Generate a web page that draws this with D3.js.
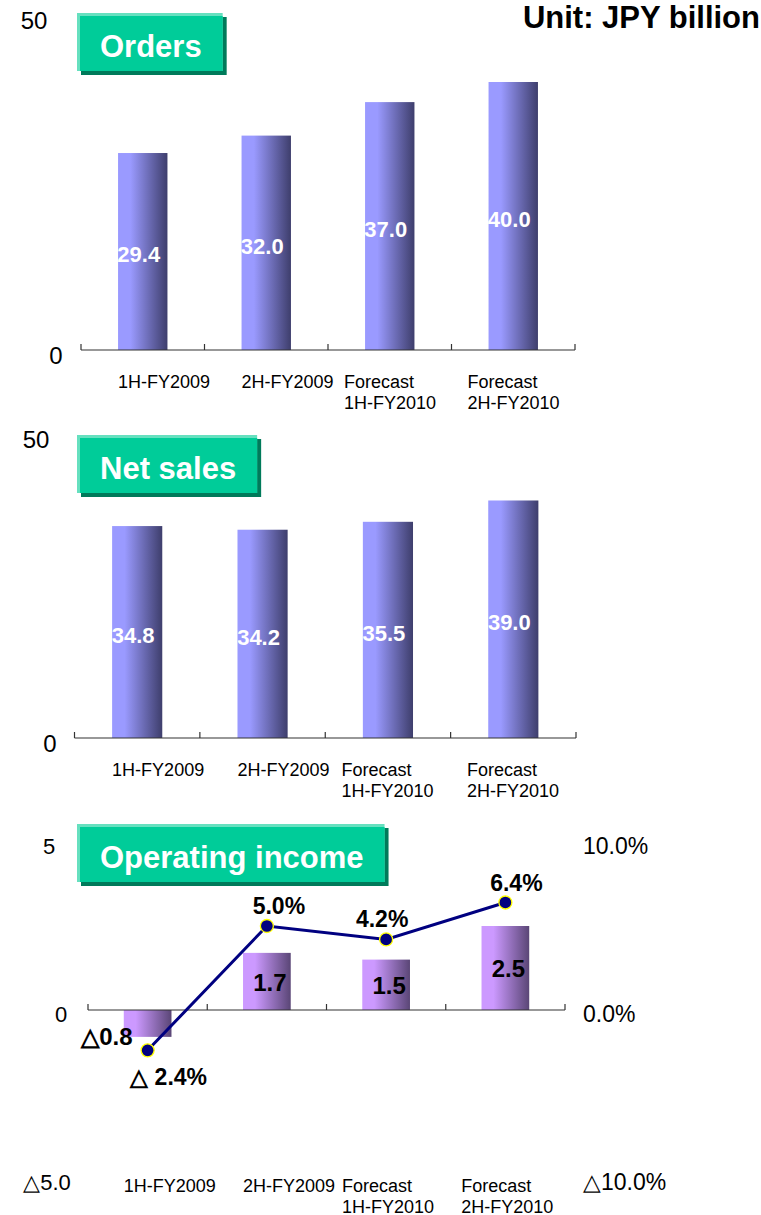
<!DOCTYPE html>
<html>
<head>
<meta charset="utf-8">
<script src="https://cdn.jsdelivr.net/npm/d3@7"></script>
<style>
  body { margin: 0; background: #fff; }
  svg { display: block; font-family: "Liberation Sans", Arial, sans-serif; }
</style>
</head>
<body>
<script>
// categories and values (JPY billion)
var categories = [["1H-FY2009"], ["2H-FY2009"], ["Forecast", "1H-FY2010"], ["Forecast", "2H-FY2010"]];
var orders = [29.4, 32.0, 37.0, 40.0];
var netSales = [34.8, 34.2, 35.5, 39.0];
var opIncome = [-0.8, 1.7, 1.5, 2.5];
var opMargin = [-2.4, 5.0, 4.2, 6.4];   // % of sales

var salesTicks = [0, 50],
    salesTickLabels = ["0", "50"];
var opTicks = [-5, 0, 5],
    opTickLabels = ["\u25B35.0", "0", "5"];
var marginTicks = [-10, 0, 10],
    marginTickLabels = ["\u25B310.0%", "0.0%", "10.0%"];

var W = 761, H = 1215;
var svg = d3.select("body").append("svg").attr("width", W).attr("height", H);

var defs = svg.append("defs");
function gradient(id, c0, c1) {
  var g = defs.append("linearGradient").attr("id", id)
      .attr("x1", "0%").attr("x2", "100%").attr("y1", "0%").attr("y2", "0%");
  g.append("stop").attr("offset", "0%").attr("stop-color", c0);
  g.append("stop").attr("offset", "25%").attr("stop-color", c0);
  g.append("stop").attr("offset", "100%").attr("stop-color", c1);
}
gradient("blueBar", "#9a9aff", "#3e3e6c");
gradient("purpleBar", "#cc99ff", "#5a4676");

var fmtNeg = function(v, dec, suffix, gap) {
  return v < 0 ? "\u25B3" + (gap ? " " : "") + Math.abs(v).toFixed(dec) + suffix : v.toFixed(dec) + suffix;
};

// green title panel with shadow
function titleBox(x, y, label) {
  var g = svg.append("g");
  var shadow = g.append("rect").attr("fill", "#007a5a");
  var light = g.append("rect").attr("fill", "#66e0bf");
  var main = g.append("rect").attr("fill", "#00cc99");
  var t = g.append("text").attr("x", 0).attr("y", y + 44)
      .attr("fill", "#fff").attr("font-size", 31).attr("font-weight", "bold")
      .attr("text-anchor", "middle").text(label);
  var w = t.node().getComputedTextLength() + 44, h = 58;
  shadow.attr("x", x + 4).attr("y", y + 4).attr("width", w).attr("height", h);
  light.attr("x", x).attr("y", y).attr("width", w).attr("height", h);
  main.attr("x", x + 3).attr("y", y + 3).attr("width", w - 3).attr("height", h - 3);
  t.attr("x", x + w / 2 + 1);
}

function categoryAxis(x, y0, labelY) {
  var bw = x.bandwidth();
  var ticks = x.domain().map(function(d) { return x(d); }).concat([x.range()[1]]);
  svg.append("line")
      .attr("x1", x.range()[0]).attr("x2", x.range()[1])
      .attr("y1", y0).attr("y2", y0)
      .attr("stroke", "#333").attr("stroke-width", 1.2);
  svg.selectAll(null).data(ticks).enter().append("line")
      .attr("x1", function(d) { return d; }).attr("x2", function(d) { return d; })
      .attr("y1", y0).attr("y2", y0 - 6)
      .attr("stroke", "#333").attr("stroke-width", 1.2);
  var lab = svg.selectAll(null).data(categories).enter().append("text")
      .attr("font-size", 18).attr("fill", "#000")
      .attr("x", function(d, i) { return x(i) + (d.length > 1 ? 0.13 : 0.3) * bw; })
      .attr("y", labelY);
  lab.selectAll("tspan").data(function(d) { return d; }).enter().append("tspan")
      .attr("x", function() { return d3.select(this.parentNode).attr("x"); })
      .attr("dy", function(d, j) { return j ? 20.5 : 0; })
      .text(function(d) { return d; });
}

function barChart(values, top, yZero, yMax, xRange, title, labelXs) {
  var x = d3.scaleBand().domain(d3.range(values.length)).range(xRange);
  var y = d3.scaleLinear().domain([0, 50]).range([yZero, yMax]);
  var bw = x.bandwidth(), barW = 0.4 * bw;

  svg.selectAll(null).data(values).enter().append("rect")
      .attr("x", function(d, i) { return x(i) + (bw - barW) / 2; })
      .attr("y", function(d) { return y(d); })
      .attr("width", barW)
      .attr("height", function(d) { return y(0) - y(d); })
      .attr("fill", "url(#blueBar)");

  svg.selectAll(null).data(values).enter().append("text")
      .attr("x", function(d, i) { return x(i) + bw / 2 - 4; })
      .attr("y", function(d) { return (y(d) + y(0)) / 2 + 3; })
      .attr("dy", "0.35em").attr("text-anchor", "middle")
      .attr("fill", "#fff").attr("font-size", 22).attr("font-weight", "bold")
      .text(function(d) { return d.toFixed(1); });

  svg.selectAll(null).data(salesTicks).enter().append("text")
      .attr("x", function(d, i) { return labelXs[i]; })
      .attr("y", function(d) { return y(d) + 6; })
      .attr("dy", "0.35em").attr("text-anchor", "middle")
      .attr("font-size", 24).attr("fill", "#000")
      .text(function(d, i) { return salesTickLabels[i]; });

  categoryAxis(x, y(0), y(0) + 38);
  titleBox(77, top, title);
}

barChart(orders, 13, 350, 15, [81, 575], "Orders", [56, 34]);
barChart(netSales, 435, 738, 433.5, [74.5, 576], "Net sales", [50, 36]);

// Operating income: bars on left axis, margin line on right axis
(function() {
  var x = d3.scaleBand().domain(d3.range(opIncome.length)).range([88, 565]);
  var y = d3.scaleLinear().domain([-5, 5]).range([1178, 842]);
  var y2 = d3.scaleLinear().domain([-10, 10]).range([1178, 842]);
  var bw = x.bandwidth(), barW = 0.4 * bw;
  var cx = function(i) { return x(i) + bw / 2; };

  svg.selectAll(null).data(opIncome).enter().append("rect")
      .attr("x", function(d, i) { return cx(i) - barW / 2; })
      .attr("y", function(d) { return y(Math.max(0, d)); })
      .attr("width", barW)
      .attr("height", function(d) { return Math.abs(y(d) - y(0)); })
      .attr("fill", "url(#purpleBar)");

  categoryAxis(x, y(0), 1192);

  svg.selectAll(null).data(opIncome).enter().append("text")
      .attr("x", function(d, i) { return d < 0 ? cx(i) - 15 : cx(i) + 3; })
      .attr("y", function(d) { return d < 0 ? y(d) : (y(d) + y(0)) / 2 + 1; })
      .attr("dy", "0.35em")
      .attr("text-anchor", function(d) { return d < 0 ? "end" : "middle"; })
      .attr("font-size", 24).attr("font-weight", "bold").attr("fill", "#000")
      .text(function(d) { return fmtNeg(d, 1, "", false); });

  var line = d3.line().x(function(d, i) { return cx(i); }).y(function(d) { return y2(d); });
  svg.append("path").datum(opMargin).attr("d", line)
      .attr("fill", "none").attr("stroke", "#000080").attr("stroke-width", 3);
  svg.selectAll(null).data(opMargin).enter().append("circle")
      .attr("cx", function(d, i) { return cx(i); })
      .attr("cy", function(d) { return y2(d); })
      .attr("r", 6.5).attr("fill", "#000080")
      .attr("stroke", "#ffff00").attr("stroke-width", 1.3);

  svg.selectAll(null).data(opMargin).enter().append("text")
      .attr("x", function(d, i) { return cx(i) + (d < 0 ? 21 : [0, 12, -4, 11][i]); })
      .attr("y", function(d) { return y2(d) + (d < 0 ? 27 : -20); })
      .attr("dy", "0.35em").attr("text-anchor", "middle")
      .attr("font-size", 23).attr("font-weight", "bold").attr("fill", "#000")
      .text(function(d) { return fmtNeg(d, 1, "%", true); });

  svg.selectAll(null).data(opTicks).enter().append("text")
      .attr("x", function(d, i) { return [47, 61, 49][i]; })
      .attr("y", function(d) { return y(d) + 4; })
      .attr("dy", "0.35em").attr("text-anchor", "middle")
      .attr("font-size", 22).attr("fill", "#000")
      .text(function(d, i) { return opTickLabels[i]; });

  svg.selectAll(null).data(marginTicks).enter().append("text")
      .attr("x", 583)
      .attr("y", function(d) { return y2(d) + 4; })
      .attr("dy", "0.35em")
      .attr("font-size", 23).attr("fill", "#000")
      .text(function(d, i) { return marginTickLabels[i]; });

  titleBox(77, 824, "Operating income");
})();

svg.append("text").attr("x", 760).attr("y", 28)
    .attr("text-anchor", "end").attr("font-size", 31).attr("font-weight", "bold")
    .text("Unit: JPY billion");
</script>
</body>
</html>
